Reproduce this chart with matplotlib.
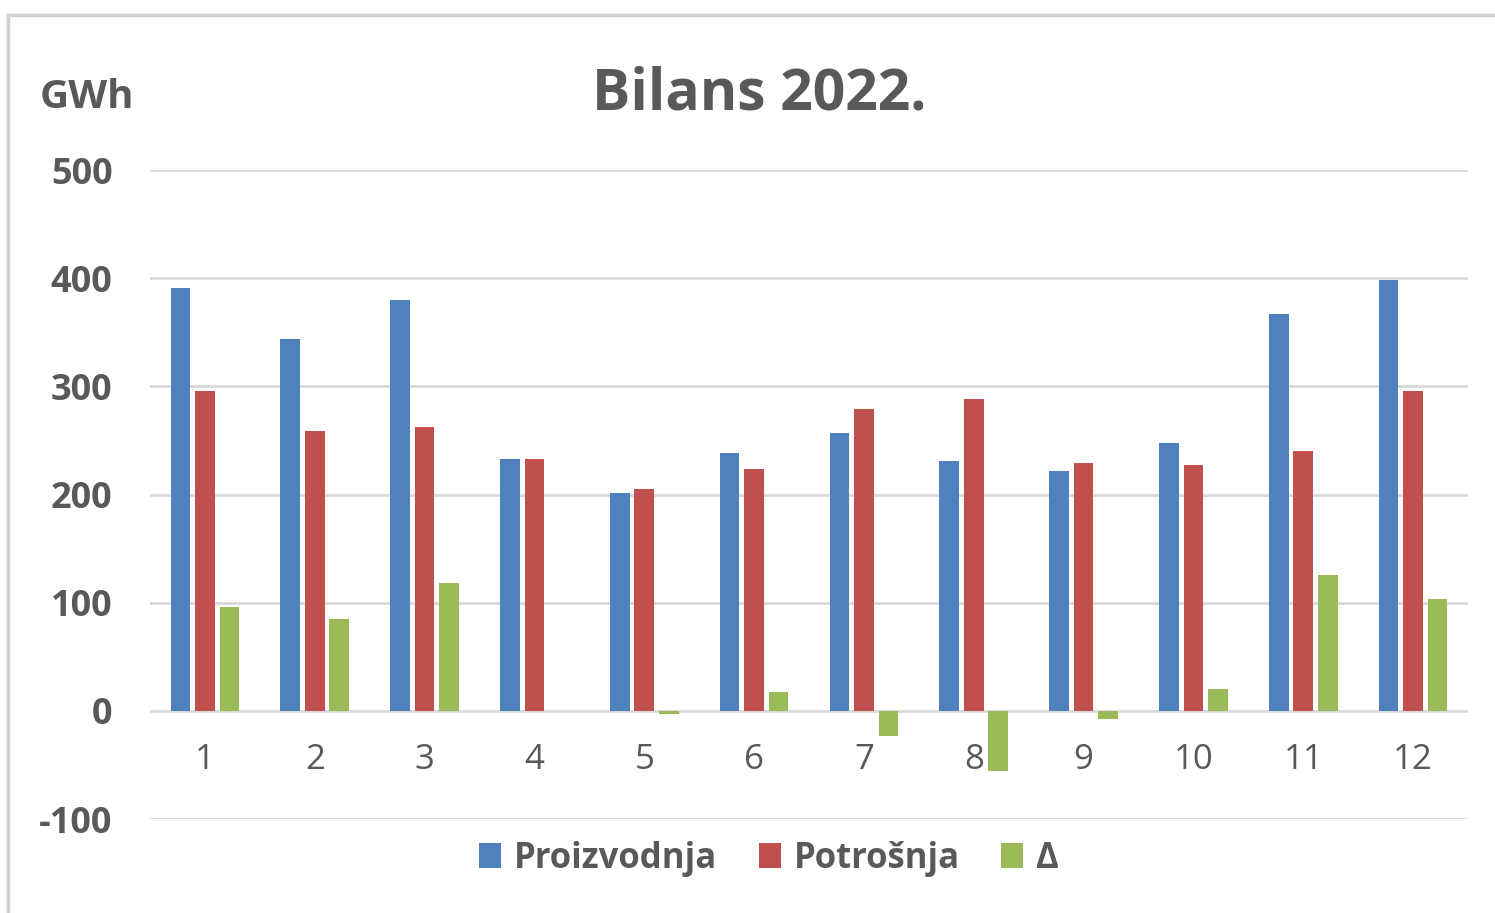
import matplotlib.pyplot as plt
from matplotlib.patches import Rectangle, Patch

# monthly balance 2022 (GWh)
months = [1, 2, 3, 4, 5, 6, 7, 8, 9, 10, 11, 12]
proizvodnja = [391, 344, 380, 233, 201, 238, 257, 231, 222, 248, 367, 398]
potrosnja = [296, 259, 262, 233, 205, 224, 279, 288, 229, 227, 240, 296]
delta = [96, 85, 118, 0, -3, 17, -23, -56, -8, 20, 126, 103]
labels = ["Proizvodnja", "Potrošnja", "Δ"]
colors = ["#4F81BD", "#C0504D", "#9BBB59"]
yticks = [-100, 0, 100, 200, 300, 400, 500]

plt.rcParams['font.family'] = ['Open Sans', 'DejaVu Sans']
plt.rcParams['axes.unicode_minus'] = False
txt = "#595959"

fig = plt.figure(figsize=(14.95, 9.13), dpi=100)
# outer chart frame
fig.patches.append(Rectangle((8 / 1495, -0.01), 1.02, 1 - 15 / 913 + 0.01,
                             transform=fig.transFigure, fill=False,
                             edgecolor="#D0D0D0", linewidth=2.5))

ax = fig.add_axes([150 / 1495, 1 - 819 / 913, 1318 / 1495, 649 / 913])

w = 0.178
step = 0.223
for i, (vals, c) in enumerate(zip([proizvodnja, potrosnja, delta], colors)):
    xs = [m + (i - 1) * step for m in months]
    ax.bar(xs, vals, width=w, color=c, zorder=3)

ax.set_xlim(0.5, 12.5)
ax.set_ylim(-100, 500)
ax.set_yticks(yticks)
ax.set_xticks(months)
ax.grid(axis='y', color="#D9D9D9", linewidth=2, zorder=0)
for s in ['left', 'right', 'top']:
    ax.spines[s].set_visible(False)
ax.spines['bottom'].set_position(('data', 0))
ax.spines['bottom'].set_visible(False)
ax.tick_params(axis='y', length=0, pad=27, labelsize=26, labelcolor=txt)
ax.tick_params(axis='x', length=0, pad=23, labelsize=25, labelcolor=txt)
for t in ax.get_yticklabels():
    t.set_fontweight('bold')

fig.text(759 / 1495, 1 - 94 / 913, "Bilans 2022.", ha='center', va='center',
         fontsize=41, fontweight='bold', color=txt)
fig.text(40 / 1495, 1 - 98 / 913, "GWh", ha='left', va='center',
         fontsize=29, fontweight='bold', color=txt)

handles = [Patch(facecolor=c) for c in colors]
fig.legend(handles, labels, loc='center', bbox_to_anchor=(769 / 1495, 1 - 859 / 913),
           ncol=3, frameon=False, handlelength=0.63, handleheight=0.72,
           handletextpad=0.37, columnspacing=1.2,
           prop={'weight': 'bold', 'size': 25})
for t in fig.legends[0].get_texts():
    t.set_color(txt)

fig.savefig("out.png", dpi=100, facecolor="white")
